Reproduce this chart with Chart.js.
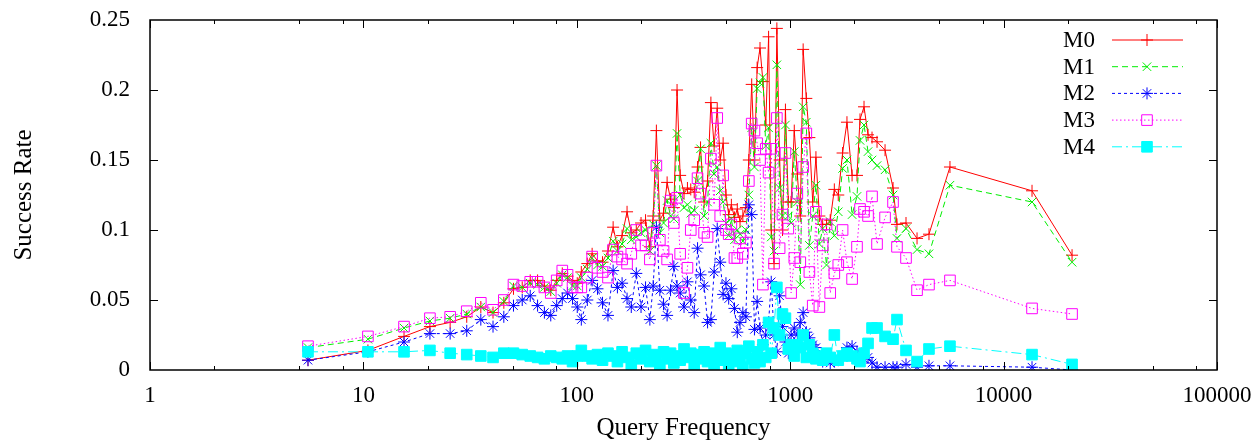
<!DOCTYPE html>
<html>
<head>
<meta charset="utf-8">
<script src="https://cdn.jsdelivr.net/npm/chart.js@4.4.1/dist/chart.umd.min.js"></script>
<style>
  html, body { margin: 0; padding: 0; background: #fff; }
  canvas { display: block; }
</style>
</head>
<body>
<canvas id="chart" width="1259" height="448"></canvas>
<script>
// query frequency bins (shared by all series)
const freq = [5.5, 10.5, 15.5, 20.5, 25.5, 30.5, 35.5, 40.5, 45.5, 50.5, 55.5, 60.5, 65.5, 70.5, 75.5, 80.5, 85.5, 90.5, 95.5, 100.5,
  105, 112, 118, 125, 132, 140, 148, 155, 163, 172, 180, 190, 200,
  210, 220, 228, 236, 245, 255, 265, 275, 285, 295, 305, 318, 330, 342, 355, 368, 380, 395,
  410, 425, 440, 455, 470, 485, 500, 515, 530, 548, 565, 582, 600, 620, 640, 660, 680, 700, 722, 745, 768, 792, 815, 840, 866, 892, 920, 950, 980,
  1010, 1045, 1080, 1115, 1150, 1190, 1230, 1275, 1320, 1370, 1420, 1480, 1540, 1610, 1680, 1760,
  1845, 1950, 2056, 2124, 2218, 2316, 2418, 2552, 2783, 3033, 3165, 3489, 3930, 4470, 5606, 13590, 20930];

const m0 = [0.007, 0.014, 0.024, 0.031, 0.034, 0.038, 0.045, 0.041, 0.048, 0.058, 0.059, 0.064, 0.064, 0.060, 0.057, 0.064, 0.069, 0.067, 0.064, 0.062,
  0.070, 0.076, 0.083, 0.078, 0.077, 0.085, 0.102, 0.088, 0.096, 0.113, 0.098, 0.100, 0.105,
  0.107, 0.088, 0.110, 0.171, 0.107, 0.112, 0.134, 0.122, 0.116, 0.200, 0.139, 0.126, 0.130, 0.129, 0.127, 0.145, 0.159, 0.120,
  0.135, 0.191, 0.160, 0.187, 0.150, 0.162, 0.125, 0.111, 0.118, 0.109, 0.115, 0.106, 0.110, 0.116, 0.150, 0.204, 0.150, 0.216, 0.230, 0.206, 0.175, 0.238, 0.100, 0.076, 0.244, 0.150, 0.100, 0.186, 0.120,
  0.120, 0.171, 0.140, 0.110, 0.229, 0.194, 0.166, 0.120, 0.152, 0.110, 0.104, 0.104, 0.107, 0.129, 0.125, 0.155,
  0.177, 0.139, 0.139, 0.179, 0.188, 0.168, 0.166, 0.163, 0.157, 0.130, 0.104, 0.105, 0.094, 0.097, 0.145, 0.128, 0.082];

const m1 = [0.016, 0.022, 0.030, 0.035, 0.037, 0.040, 0.045, 0.041, 0.049, 0.060, 0.059, 0.062, 0.061, 0.059, 0.056, 0.062, 0.068, 0.066, 0.060, 0.060,
  0.066, 0.072, 0.080, 0.075, 0.074, 0.080, 0.092, 0.085, 0.090, 0.101, 0.093, 0.095, 0.098,
  0.100, 0.085, 0.104, 0.146, 0.098, 0.105, 0.121, 0.110, 0.108, 0.169, 0.125, 0.116, 0.118, 0.112, 0.114, 0.135, 0.158, 0.110,
  0.120, 0.162, 0.140, 0.145, 0.128, 0.120, 0.105, 0.096, 0.108, 0.093, 0.100, 0.097, 0.092, 0.100, 0.125, 0.173, 0.145, 0.201, 0.205, 0.209, 0.160, 0.173, 0.095, 0.085, 0.218, 0.130, 0.110, 0.175, 0.110,
  0.105, 0.156, 0.120, 0.061, 0.188, 0.177, 0.089, 0.110, 0.132, 0.090, 0.101, 0.075, 0.106, 0.096, 0.113, 0.144,
  0.150, 0.111, 0.124, 0.164, 0.175, 0.156, 0.150, 0.146, 0.143, 0.125, 0.094, 0.101, 0.086, 0.083, 0.132, 0.120, 0.077];

const m2 = [0.007, 0.013, 0.020, 0.026, 0.026, 0.028, 0.036, 0.031, 0.038, 0.046, 0.050, 0.053, 0.046, 0.041, 0.039, 0.046, 0.051, 0.055, 0.051, 0.045,
  0.036, 0.050, 0.064, 0.058, 0.048, 0.039, 0.071, 0.059, 0.062, 0.051, 0.045, 0.069, 0.045,
  0.059, 0.036, 0.060, 0.102, 0.057, 0.047, 0.039, 0.057, 0.074, 0.060, 0.055, 0.045, 0.063, 0.050, 0.041, 0.087, 0.068, 0.060,
  0.034, 0.036, 0.070, 0.101, 0.077, 0.054, 0.062, 0.051, 0.058, 0.044, 0.027, 0.034, 0.041, 0.038, 0.118, 0.111, 0.029, 0.049, 0.030, 0.018, 0.025, 0.034, 0.063, 0.025, 0.013, 0.053, 0.031, 0.020, 0.012,
  0.025, 0.030, 0.025, 0.034, 0.041, 0.027, 0.023, 0.018, 0.016, 0.010, 0.006, 0.007, 0.005, 0.006, 0.007, 0.009,
  0.016, 0.017, 0.013, 0.009, 0.008, 0.009, 0.005, 0.002, 0.002, 0.002, 0.002, 0.004, 0.002, 0.003, 0.003, 0.002, 0.000];

const m3 = [0.017, 0.024, 0.031, 0.037, 0.038, 0.042, 0.048, 0.043, 0.050, 0.061, 0.060, 0.063, 0.063, 0.059, 0.055, 0.064, 0.071, 0.068, 0.059, 0.059,
  0.059, 0.066, 0.081, 0.073, 0.070, 0.066, 0.086, 0.081, 0.079, 0.076, 0.083, 0.100, 0.089,
  0.089, 0.079, 0.098, 0.146, 0.093, 0.085, 0.079, 0.121, 0.105, 0.123, 0.083, 0.055, 0.073, 0.100, 0.107, 0.137, 0.126, 0.098,
  0.095, 0.151, 0.118, 0.180, 0.110, 0.139, 0.100, 0.097, 0.104, 0.080, 0.080, 0.094, 0.083, 0.091, 0.135, 0.176, 0.171, 0.162, 0.150, 0.061, 0.158, 0.141, 0.158, 0.076, 0.180, 0.087, 0.111, 0.155, 0.101,
  0.055, 0.080, 0.126, 0.077, 0.145, 0.169, 0.070, 0.046, 0.113, 0.045, 0.089, 0.104, 0.055, 0.069, 0.075, 0.100,
  0.077, 0.065, 0.088, 0.115, 0.113, 0.110, 0.124, 0.090, 0.109, 0.120, 0.088, 0.080, 0.057, 0.061, 0.064, 0.044, 0.040];

const m4 = [0.013, 0.013, 0.013, 0.014, 0.012, 0.011, 0.010, 0.009, 0.012, 0.012, 0.011, 0.010, 0.009, 0.008, 0.010, 0.009, 0.008, 0.010, 0.006, 0.010,
  0.014, 0.010, 0.008, 0.011, 0.007, 0.012, 0.010, 0.006, 0.013, 0.009, 0.004, 0.012, 0.008,
  0.014, 0.006, 0.011, 0.009, 0.003, 0.013, 0.008, 0.012, 0.005, 0.010, 0.007, 0.015, 0.009, 0.012, 0.004, 0.011, 0.008, 0.013,
  0.006, 0.012, 0.004, 0.010, 0.016, 0.007, 0.012, 0.003, 0.011, 0.006, 0.014, 0.009, 0.002, 0.012, 0.017, 0.008, 0.005, 0.013, 0.006, 0.018, 0.009, 0.034, 0.012, 0.030, 0.059, 0.025, 0.040, 0.037, 0.015,
  0.018, 0.010, 0.018, 0.016, 0.025, 0.009, 0.018, 0.012, 0.008, 0.010, 0.007, 0.012, 0.009, 0.025, 0.007, 0.010,
  0.012, 0.010, 0.008, 0.006, 0.012, 0.019, 0.030, 0.030, 0.024, 0.022, 0.036, 0.014, 0.006, 0.015, 0.017, 0.011, 0.004];

const seriesNames = ["M0", "M1", "M2", "M3", "M4"];
const xTickVals = [1, 2, 5, 8, 10, 20, 50, 80, 100, 200, 500, 800, 1000, 2000, 5000, 8000, 10000, 20000, 50000, 80000, 100000];
const xTickLabels = ["1", "10", "100", "1000", "10000", "100000"];

const styles = [
  { color: "#ff0000", dash: [], point: "cross", radius: 6, fill: false },
  { color: "#00ee00", dash: [6, 4], point: "crossRot", radius: 6, fill: false },
  { color: "#0000ff", dash: [3, 3], point: "star", radius: 6, fill: false },
  { color: "#ff00ff", dash: [1.5, 2.5], point: "rect", radius: 7.5, fill: false },
  { color: "#00ffff", dash: [10, 4, 2, 4], point: "rect", radius: 7.5, fill: true },
];

const allSeries = [m0, m1, m2, m3, m4];

const datasets = allSeries.map((vals, i) => {
  const s = styles[i];
  return {
    label: seriesNames[i],
    data: freq.map((f, j) => ({ x: f, y: vals[j] })),
    borderColor: s.color,
    backgroundColor: s.fill ? s.color : "rgba(0,0,0,0)",
    borderWidth: 1,
    borderDash: s.dash,
    pointStyle: s.point,
    pointRadius: s.radius,
    pointBorderColor: s.color,
    pointBackgroundColor: s.fill ? s.color : "rgba(0,0,0,0)",
    pointBorderWidth: 1,
    tension: 0,
    order: 4 - i,
  };
});

function isDecade(v) {
  return xTickLabels.indexOf(String(v)) >= 0;
}

function drawMarker(c, s, x, y) {
  c.save();
  c.setLineDash([]);
  c.strokeStyle = s.color;
  c.fillStyle = s.color;
  c.lineWidth = 1;
  const r = s.radius;
  c.beginPath();
  if (s.point === "cross") {
    c.moveTo(x - r, y); c.lineTo(x + r, y);
    c.moveTo(x, y - r); c.lineTo(x, y + r);
    c.stroke();
  } else if (s.point === "crossRot") {
    const d = r * Math.SQRT1_2;
    c.moveTo(x - d, y - d); c.lineTo(x + d, y + d);
    c.moveTo(x - d, y + d); c.lineTo(x + d, y - d);
    c.stroke();
  } else if (s.point === "star") {
    const d = r * Math.SQRT1_2;
    c.moveTo(x - r, y); c.lineTo(x + r, y);
    c.moveTo(x, y - r); c.lineTo(x, y + r);
    c.moveTo(x - d, y - d); c.lineTo(x + d, y + d);
    c.moveTo(x - d, y + d); c.lineTo(x + d, y - d);
    c.stroke();
  } else {
    const h = r * Math.SQRT1_2;
    c.rect(x - h, y - h, 2 * h, 2 * h);
    if (s.fill) c.fill();
    c.stroke();
  }
  c.restore();
}

// frame, inward ticks on all four sides and the legend box, gnuplot style
const framePlugin = {
  id: "framePlugin",
  afterDraw(chart) {
    const c = chart.ctx;
    const a = chart.chartArea;
    const xs = chart.scales.x;
    const ys = chart.scales.y;
    c.save();
    c.strokeStyle = "#000";
    c.lineWidth = 1;
    c.beginPath();
    xTickVals.forEach((v) => {
      const px = Math.round(xs.getPixelForValue(v)) + 0.5;
      const len = isDecade(v) ? 8 : 4;
      c.moveTo(px, a.bottom); c.lineTo(px, a.bottom - len);
      c.moveTo(px, a.top); c.lineTo(px, a.top + len);
    });
    for (let v = 0.05; v < 0.249; v += 0.05) {
      const py = Math.round(ys.getPixelForValue(v)) + 0.5;
      c.moveTo(a.left, py); c.lineTo(a.left + 8, py);
      c.moveTo(a.right, py); c.lineTo(a.right - 8, py);
    }
    c.stroke();
    c.lineWidth = 1.5;
    c.strokeRect(a.left, a.top, a.right - a.left, a.bottom - a.top);

    // legend
    c.font = "23px 'Liberation Serif', serif";
    c.textAlign = "right";
    c.textBaseline = "middle";
    c.fillStyle = "#000";
    seriesNames.forEach((name, i) => {
      const y = 40 + i * 26.7;
      const s = styles[i];
      c.fillText(name, 1095, y + 1);
      c.strokeStyle = s.color;
      c.lineWidth = 1;
      c.setLineDash(s.dash);
      c.beginPath();
      c.moveTo(1112, y); c.lineTo(1183, y);
      c.stroke();
      c.setLineDash([]);
      drawMarker(c, s, 1147, y);
    });
    c.restore();
  },
};

Chart.defaults.font.family = "'Liberation Serif', serif";
Chart.defaults.font.size = 23;
Chart.defaults.color = "#000";

new Chart(document.getElementById("chart"), {
  type: "line",
  data: { datasets },
  options: {
    responsive: false,
    animation: false,
    devicePixelRatio: 1,
    layout: { padding: { top: 20, right: 42, left: 0, bottom: 0 } },
    plugins: { legend: { display: false }, tooltip: { enabled: false } },
    scales: {
      x: {
        type: "logarithmic",
        min: 1,
        max: 100000,
        afterBuildTicks: (scale) => {
          scale.ticks = xTickVals.map((v) => ({ value: v }));
        },
        afterFit: (scale) => {
          scale.height = 78;
          scale.paddingLeft = 0;
          scale.paddingRight = 0;
        },
        grid: { display: false, drawTicks: false },
        border: { display: false },
        ticks: {
          autoSkip: false,
          maxRotation: 0,
          padding: 12,
          callback: (v) => (isDecade(v) ? String(v) : ""),
        },
        title: { display: true, text: "Query Frequency", font: { size: 25 }, padding: { top: 0, bottom: 5 } },
      },
      y: {
        min: 0,
        max: 0.25,
        afterFit: (scale) => {
          scale.width = 150;
          scale.paddingTop = 0;
          scale.paddingBottom = 0;
        },
        grid: { display: false, drawTicks: false },
        border: { display: false },
        ticks: {
          stepSize: 0.05,
          padding: 20,
          callback: (v) => String(Math.round(v * 100) / 100),
        },
        title: { display: true, text: "Success Rate", font: { size: 25 }, padding: { top: 9, bottom: 0 } },
      },
    },
  },
  plugins: [framePlugin],
});
</script>
</body>
</html>
